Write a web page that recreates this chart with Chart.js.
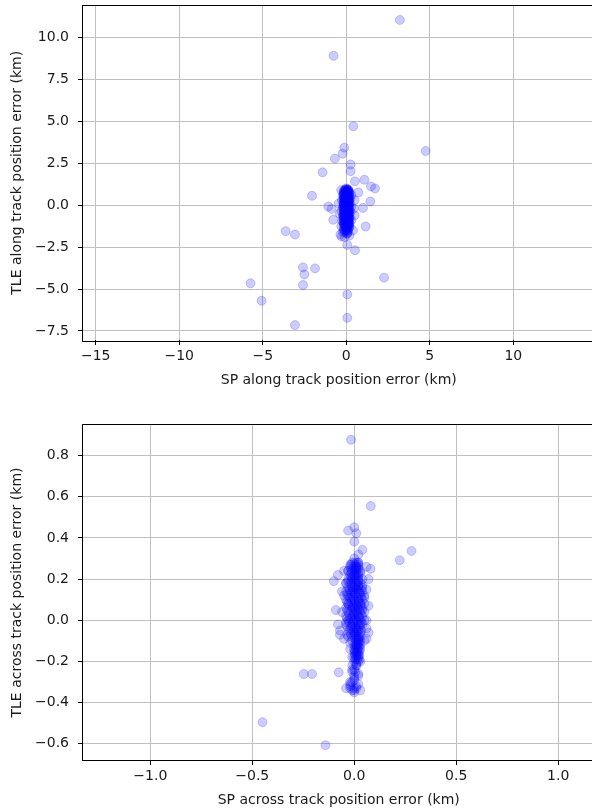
<!DOCTYPE html>
<html>
<head>
<meta charset="utf-8">
<script src="https://cdn.jsdelivr.net/npm/chart.js@4"></script>
<style>
  html, body { margin: 0; padding: 0; background: #fff; overflow: hidden; }
  body { width: 592px; height: 812px; position: relative; }
  .box { position: absolute; left: 0; width: 600px; }
</style>
</head>
<body>
<div class="box" style="top:0;height:400px"><canvas id="alongChart" width="600" height="400"></canvas></div>
<div class="box" style="top:410px;height:402px"><canvas id="acrossChart" width="600" height="402"></canvas></div>
<script>
// along track errors (km): SP on x, TLE on y -- scattered points
const alongSP = [
    3.21, -0.76, 0.42, -0.12, -0.22, -0.68, 4.75, 0.26, 0.26, -1.42, 0.52, 1.08, 0.72, 1.48, 1.72,
    -2.05, 1.44, 1.0, -1.08, -0.88, -0.78, 1.16, -3.63, -3.07, 0.06, 0.52, -2.59, -1.87, -2.51, -2.59,
    2.26, -5.73, -5.07, 0.06, 0.06, -3.07,
    0, 0.1, -0.1, 0.05, 0.2, -0.2, 0, 0.15, -0.1, 0.25, 0, -0.25, 0.1, -0.05, 0.2, 0, -0.15, 0.1, 0,
    0.3, -0.2, 0.05, -0.1, 0.15, 0, -0.3, 0.25, 0.05, -0.1, 0.1, 0, -0.2, 0.2, 0, -0.1, 0.1, 0.3,
    -0.25, 0, 0.15, -0.1, 0.05, -0.3, 0.2, 0, -0.15, 0.1, -0.2, 0.05, -0.35, 0.2, -0.1, 0.4, 0.5,
    0.45, 0.5, -0.4, -0.45, 0.3, -0.3, 0, 0, 0.05, -0.05, 0.1, -0.05, 0, 0.1, 0, -0.1, 0.06, -0.28
];
const alongTLE = [
    11.05, 8.91, 4.71, 3.43, 3.07, 2.78, 3.23, 2.43, 2.03, 1.96, 1.42, 1.52, 0.76, 1.12, 1.0,
    0.56, 0.22, -0.16, -0.08, -0.22, -0.87, -1.27, -1.55, -1.75, -2.37, -2.69, -3.71, -3.77, -4.13, -4.76,
    -4.32, -4.66, -5.7, -5.32, -6.72, -7.15,
    1.0, 0.9, 0.8, 0.7, 0.75, 0.6, 0.55, 0.5, 0.45, 0.4, 0.35, 0.3, 0.25, 0.2, 0.15, 0.1, 0.05, 0, -0.05,
    -0.1, -0.1, -0.15, -0.2, -0.25, -0.3, -0.35, -0.4, -0.45, -0.5, -0.55, -0.6, -0.65, -0.7, -0.75, -0.8, -0.85, -0.9,
    -0.95, -1.0, -1.05, -1.1, -1.2, -1.25, -1.3, -1.35, -1.45, -1.5, -1.6, -1.7, -1.75, -1.8, -1.9, -1.5, -0.6,
    -0.2, 0.3, -0.5, 0.1, 0.6, 0.9, 0.2, -0.2, 0.5, -0.4, -0.7, 0.0, 0.75, -1.2, -0.9, 0.3, -1.69, -1.87
];

// along track: the saturated core near zero
const alongCoreSP = [
    -0.05, 0.08, 0.12, -0.1,    0.02, -0.12, 0.15, 0.05,    -0.08, 0.1, 0.0, 0.18,
    0.05, -0.15, 0.12, -0.02,   -0.1, 0.08, 0.2, 0.0,       0.03, -0.12, 0.15, -0.05,
    -0.08, 0.1, 0.02, 0.18,     0.05, -0.15, 0.12, -0.02,   -0.1, 0.08, 0.2, 0.0,
    0.03, -0.12, 0.15, -0.05,   -0.08, 0.1, 0.02, 0.18,     0.05, -0.15, 0.12, -0.02,
    -0.1, 0.08, 0.2, 0.0,       0.03, -0.12, 0.15, -0.05,   -0.08, 0.1, 0.02, 0.18,
    0.05, -0.15, 0.12, -0.02,   -0.1, 0.08, 0.2, 0.0,       0.03, -0.12, 0.15, -0.05,
    -0.08, 0.1, 0.02, 0.18,     0.05, -0.15, 0.12, -0.02,   -0.1, 0.08, 0.2, 0.0,
    0.03, -0.12, 0.15, -0.05,   -0.08, 0.1, 0.02, 0.18,     0.05, -0.15, 0.12, -0.02,
    -0.1, 0.08, 0.0,            0.03, -0.12, 0.1,
    -0.06, 0.04, 0.1,           -0.14, -0.03, 0.07, 0.16,   -0.06, 0.04, 0.13, -0.17,
    -0.14, -0.03, 0.07, 0.16,   -0.06, 0.04, 0.13, -0.17,   -0.14, -0.03, 0.07, 0.16,
    -0.06, 0.04, 0.13, -0.17,   -0.14, -0.03, 0.07, 0.16,   -0.06, 0.04, 0.13, -0.17,
    -0.14, -0.03, 0.07, 0.16,   -0.06, 0.04, 0.13, -0.17,   -0.14, -0.03, 0.07, 0.16,
    -0.06, 0.04, 0.13, -0.17,   -0.14, -0.03, 0.07, 0.16,   -0.06, 0.04, 0.13, -0.17,
    -0.14, -0.03, 0.07, 0.16,   -0.06, 0.04, 0.13, -0.17,   -0.14, -0.03, 0.07, 0.16,
    -0.06, 0.04, 0.13, -0.17,   -0.14, -0.03, 0.07, 0.16,   -0.06, 0.04, 0.13, -0.17,
    -0.14, -0.03, 0.07, 0.16,   -0.06, 0.04, 0.1
];
const alongCoreTLE = [
    0.9, 0.9, 0.9, 0.9,         0.8, 0.8, 0.8, 0.8,         0.7, 0.7, 0.7, 0.7,
    0.6, 0.6, 0.6, 0.6,         0.5, 0.5, 0.5, 0.5,         0.4, 0.4, 0.4, 0.4,
    0.3, 0.3, 0.3, 0.3,         0.2, 0.2, 0.2, 0.2,         0.1, 0.1, 0.1, 0.1,
    0.0, 0.0, 0.0, 0.0,         -0.1, -0.1, -0.1, -0.1,     -0.2, -0.2, -0.2, -0.2,
    -0.3, -0.3, -0.3, -0.3,     -0.4, -0.4, -0.4, -0.4,     -0.5, -0.5, -0.5, -0.5,
    -0.6, -0.6, -0.6, -0.6,     -0.7, -0.7, -0.7, -0.7,     -0.8, -0.8, -0.8, -0.8,
    -0.9, -0.9, -0.9, -0.9,     -1.0, -1.0, -1.0, -1.0,     -1.1, -1.1, -1.1, -1.1,
    -1.2, -1.2, -1.2, -1.2,     -1.3, -1.3, -1.3, -1.3,     -1.4, -1.4, -1.4, -1.4,
    -1.5, -1.5, -1.5,           -1.6, -1.6, -1.6,
    0.95, 0.95, 0.95,           0.85, 0.85, 0.85, 0.85,     0.75, 0.75, 0.75, 0.75,
    0.65, 0.65, 0.65, 0.65,     0.55, 0.55, 0.55, 0.55,     0.45, 0.45, 0.45, 0.45,
    0.35, 0.35, 0.35, 0.35,     0.25, 0.25, 0.25, 0.25,     0.15, 0.15, 0.15, 0.15,
    0.05, 0.05, 0.05, 0.05,     -0.05, -0.05, -0.05, -0.05, -0.15, -0.15, -0.15, -0.15,
    -0.25, -0.25, -0.25, -0.25, -0.35, -0.35, -0.35, -0.35, -0.45, -0.45, -0.45, -0.45,
    -0.55, -0.55, -0.55, -0.55, -0.65, -0.65, -0.65, -0.65, -0.75, -0.75, -0.75, -0.75,
    -0.85, -0.85, -0.85, -0.85, -0.95, -0.95, -0.95, -0.95, -1.05, -1.05, -1.05, -1.05,
    -1.15, -1.15, -1.15, -1.15, -1.25, -1.25, -1.25, -1.25, -1.35, -1.35, -1.35, -1.35,
    -1.45, -1.45, -1.45, -1.45, -1.55, -1.55, -1.55
];

// across track errors (km): SP on x, TLE on y -- scattered points
const acrossSP = [
    -0.016, 0.081, 0.281, 0.223, -0.247, -0.207, -0.076, -0.141, -0.45,
    -0.03, 0, 0.01, 0, 0.04, 0.02, -0.1, 0.08, 0.06, -0.05,
    0, 0.02, -0.02, 0.01, -0.03, 0.03, 0, -0.01, 0.02, -0.04, 0.04, 0, 0.01, -0.02, 0.03, -0.05, 0.05,
    0, 0.02, -0.03, 0.01, -0.01, 0.04, -0.06, 0, 0.02, -0.02, 0.06, 0, -0.04, 0.03, -0.01, 0.01, -0.07,
    0.07, 0, -0.03, 0.02, 0.05, -0.02, 0.01, 0.03, 0, 0.02, -0.01, 0.03, 0.01, -0.01, 0.02, 0, -0.02,
    0.01, -0.04, 0.03, 0, -0.02,
    0.01, -0.01, 0.02, -0.02, 0.01, 0, -0.03, 0.03, 0.02, -0.02, 0.01, 0, 0, -0.01,
    -0.08, -0.06, 0.07, 0.06, -0.08, 0.06, -0.09, 0.07, -0.07, 0.06, -0.05
];
const acrossTLE = [
    0.877, 0.555, 0.337, 0.292, -0.261, -0.261, -0.253, -0.607, -0.495,
    0.436, 0.452, 0.423, 0.382, 0.342, 0.32, 0.19, 0.25, 0.26, 0.24,
    0.3, 0.28, 0.27, 0.25, 0.24, 0.23, 0.22, 0.2, 0.19, 0.18, 0.17, 0.16, 0.15, 0.14, 0.13, 0.12, 0.11,
    0.1, 0.09, 0.08, 0.07, 0.06, 0.05, 0.04, 0.03, 0.02, 0.01, 0.0, 0, -0.01, -0.02, -0.03, -0.04, -0.05,
    -0.06, -0.07, -0.08, -0.09, -0.1, -0.11, -0.12, -0.14, -0.15, -0.17, -0.18, -0.2, -0.22, -0.24, -0.26, -0.28, -0.3,
    -0.32, -0.33, -0.34, -0.35, -0.32,
    0.26, 0.21, 0.17, 0.11, 0.04, 0.13, 0.19, 0.08, -0.05, -0.14, 0.0, 0.06, 0.24, 0.16,
    0.22, 0.14, 0.2, 0.15, -0.02, -0.04, 0.05, 0.07, -0.07, -0.09, -0.09
];

// across track: the saturated core near zero
const acrossCoreSP = [
    -0.01, 0.01, 0.02, 0.0,     -0.02, 0.0, 0.02, 0.01,     -0.01, 0.01, 0.03, -0.03,
    -0.02, 0.0, 0.02, 0.01,     -0.03, 0.0, 0.02, 0.04,     -0.02, 0.01, 0.03, -0.04,
    -0.03, 0.0, 0.02, 0.04,     -0.04, -0.01, 0.02, 0.04,   -0.03, 0.0, 0.03, 0.05,
    -0.04, -0.01, 0.02, 0.04,   -0.03, 0.0, 0.03, 0.05,     -0.04, -0.01, 0.02, 0.04,
    -0.03, 0.0, 0.03, 0.05,     -0.04, -0.01, 0.02, 0.04,   -0.03, 0.0, 0.03, 0.05,
    -0.04, -0.01, 0.02, 0.04,   -0.02, 0.0, 0.03, 0.01,     -0.02, 0.01, 0.03, 0.0,
    -0.01, 0.01, 0.03, 0.02,    -0.01, 0.01, 0.03, 0.02,    0.0, 0.02, 0.03, 0.01,
    0.0, 0.02, 0.01,            0.0, 0.02, 0.01,            0.0, 0.02, 0.01,
    0.0, 0.02,                  0.01, -0.01,                0.0,
    0.0, 0.02,                  -0.01,                      -0.02, 0.01, 0.0,
    -0.015, 0.005, 0.02,        -0.015, 0.005, 0.02,        -0.015, 0.005, 0.02,
    -0.015, 0.005, 0.02,        -0.015, 0.005, 0.02,        -0.015, 0.005, 0.02,
    -0.025, -0.005, 0.015, 0.035,   -0.035, 0.005, 0.025, -0.015,   -0.025, -0.005, 0.015, 0.035,
    -0.035, 0.005, 0.025, -0.015,   -0.025, -0.005, 0.015, 0.035,   -0.035, 0.005, 0.025, -0.015,
    -0.025, -0.005, 0.015, 0.035,   -0.035, 0.005, 0.025, -0.015,   -0.025, -0.005, 0.015, 0.035,
    -0.035, 0.005, 0.025, -0.015,   -0.025, -0.005, 0.015, 0.035,   -0.035, 0.005, 0.025, -0.015,
    0.005, 0.025, 0.015,        0.005, 0.025, 0.015,        0.005, 0.025, 0.015,
    0.005, 0.025, 0.015,        0.005, 0.025, 0.015,        0.005, 0.025, 0.015,
    0.01,                       0.005, -0.01,               0.0,
    -0.02, 0.02,                0.0, -0.01
];
const acrossCoreTLE = [
    0.28, 0.28, 0.28, 0.28,     0.26, 0.26, 0.26, 0.26,     0.24, 0.24, 0.24, 0.24,
    0.22, 0.22, 0.22, 0.22,     0.20, 0.20, 0.20, 0.20,     0.18, 0.18, 0.18, 0.18,
    0.16, 0.16, 0.16, 0.16,     0.14, 0.14, 0.14, 0.14,     0.12, 0.12, 0.12, 0.12,
    0.10, 0.10, 0.10, 0.10,     0.08, 0.08, 0.08, 0.08,     0.06, 0.06, 0.06, 0.06,
    0.04, 0.04, 0.04, 0.04,     0.02, 0.02, 0.02, 0.02,     0.00, 0.00, 0.00, 0.00,
    -0.02, -0.02, -0.02, -0.02, -0.04, -0.04, -0.04, -0.04, -0.06, -0.06, -0.06, -0.06,
    -0.08, -0.08, -0.08, -0.08, -0.10, -0.10, -0.10, -0.10, -0.12, -0.12, -0.12, -0.12,
    -0.14, -0.14, -0.14,        -0.16, -0.16, -0.16,        -0.18, -0.18, -0.18,
    -0.20, -0.20,               -0.22, -0.22,               -0.24,
    -0.27, -0.27,               -0.30,                      -0.33, -0.33, -0.33,
    0.27, 0.27, 0.27,           0.25, 0.25, 0.25,           0.23, 0.23, 0.23,
    0.21, 0.21, 0.21,           0.19, 0.19, 0.19,           0.17, 0.17, 0.17,
    0.15, 0.15, 0.15, 0.15,     0.13, 0.13, 0.13, 0.13,     0.11, 0.11, 0.11, 0.11,
    0.09, 0.09, 0.09, 0.09,     0.07, 0.07, 0.07, 0.07,     0.05, 0.05, 0.05, 0.05,
    0.03, 0.03, 0.03, 0.03,     0.01, 0.01, 0.01, 0.01,     -0.01, -0.01, -0.01, -0.01,
    -0.03, -0.03, -0.03, -0.03, -0.05, -0.05, -0.05, -0.05, -0.07, -0.07, -0.07, -0.07,
    -0.09, -0.09, -0.09,        -0.11, -0.11, -0.11,        -0.13, -0.13, -0.13,
    -0.15, -0.15, -0.15,        -0.17, -0.17, -0.17,        -0.19, -0.19, -0.19,
    -0.21,                      -0.25, -0.25,               -0.29,
    -0.31, -0.31,               -0.34, -0.34
];

const topXTicks = [-15, -10, -5, 0, 5, 10];
const topYTicks = [-7.5, -5.0, -2.5, 0.0, 2.5, 5.0, 7.5, 10.0];
const bottomXTicks = [-1.0, -0.5, 0.0, 0.5, 1.0];
const bottomYTicks = [-0.6, -0.4, -0.2, 0.0, 0.2, 0.4, 0.6, 0.8];

const FONT = { family: 'DejaVu Sans', size: 14, lineHeight: 1.2 };
const TEXT = '#1a1a1a';

function fmt(v, digits) {
    return v.toFixed(digits).replace('-', '\u2212');
}

// draws the four spines like matplotlib
const framePlugin = {
    id: 'frame',
    afterDatasetsDraw(chart) {
        const a = chart.chartArea;
        const ctx = chart.ctx;
        ctx.save();
        ctx.strokeStyle = '#000';
        ctx.lineWidth = 1;
        ctx.strokeRect(Math.round(a.left) - 0.5, Math.round(a.top) - 0.5,
            Math.round(a.right - a.left) + 1, Math.round(a.bottom - a.top) + 1);
        ctx.restore();
    }
};

function makeScatter(id, xs, ys, cfg) {
    const points = xs.map((x, i) => ({ x: x, y: ys[i] }));
    return new Chart(document.getElementById(id).getContext('2d'), {
        type: 'scatter',
        data: {
            datasets: [{
                data: points,
                backgroundColor: 'rgba(0, 0, 255, 0.2)',
                borderColor: 'rgba(0, 0, 255, 0.2)',
                borderWidth: 1,
                pointRadius: 4.5,
                pointHoverRadius: 4.5
            }]
        },
        options: {
            responsive: false,
            animation: false,
            layout: { padding: { top: cfg.padTop, right: 3, left: 0, bottom: 0 } },
            plugins: { legend: { display: false }, tooltip: { enabled: false } },
            scales: {
                x: {
                    type: 'linear',
                    min: cfg.xMin,
                    max: cfg.xMax,
                    afterBuildTicks: s => { s.ticks = cfg.xTicks.map(v => ({ value: v })); },
                    afterFit: s => {
                        s.height = cfg.xAxisHeight;
                        s.paddingLeft = 0;
                        s.paddingRight = 0;
                    },
                    border: { display: false },
                    grid: { color: '#c0c0c0', lineWidth: 1, tickLength: 5, tickColor: '#000', tickWidth: 1 },
                    ticks: {
                        color: TEXT, font: FONT, padding: 3, autoSkip: false, maxRotation: 0,
                        callback: v => fmt(v, cfg.xDigits)
                    },
                    title: {
                        display: true, text: cfg.xTitle, color: TEXT, font: FONT,
                        padding: { top: 0, bottom: cfg.xTitlePad }
                    }
                },
                y: {
                    type: 'linear',
                    min: cfg.yMin,
                    max: cfg.yMax,
                    afterBuildTicks: s => { s.ticks = cfg.yTicks.map(v => ({ value: v })); },
                    afterFit: s => {
                        s.width = 83;
                        s.paddingTop = 0;
                        s.paddingBottom = 0;
                    },
                    border: { display: false },
                    grid: { color: '#c0c0c0', lineWidth: 1, tickLength: 5, tickColor: '#000', tickWidth: 1 },
                    ticks: {
                        color: TEXT, font: FONT, padding: 9, autoSkip: false,
                        callback: v => fmt(v, 1)
                    },
                    title: {
                        display: true, text: cfg.yTitle, color: TEXT, font: FONT,
                        padding: { top: 9, bottom: 0 }
                    }
                }
            }
        },
        plugins: [framePlugin]
    });
}

makeScatter('alongChart', alongSP.concat(alongCoreSP), alongTLE.concat(alongCoreTLE), {
    padTop: 5, xAxisHeight: 60, xTitlePad: 11,
    xMin: -15.76, xMax: 14.86, yMin: -8.04, yMax: 11.91,
    xTicks: topXTicks, yTicks: topYTicks, xDigits: 0,
    xTitle: 'SP along track position error (km)',
    yTitle: 'TLE along track position error (km)'
});

makeScatter('acrossChart', acrossSP.concat(acrossCoreSP), acrossTLE.concat(acrossCoreTLE), {
    padTop: 15, xAxisHeight: 52, xTitlePad: 3,
    xMin: -1.33, xMax: 1.178, yMin: -0.679, yMax: 0.949,
    xTicks: bottomXTicks, yTicks: bottomYTicks, xDigits: 1,
    xTitle: 'SP across track position error (km)',
    yTitle: 'TLE across track position error (km)'
});
</script>
</body>
</html>
